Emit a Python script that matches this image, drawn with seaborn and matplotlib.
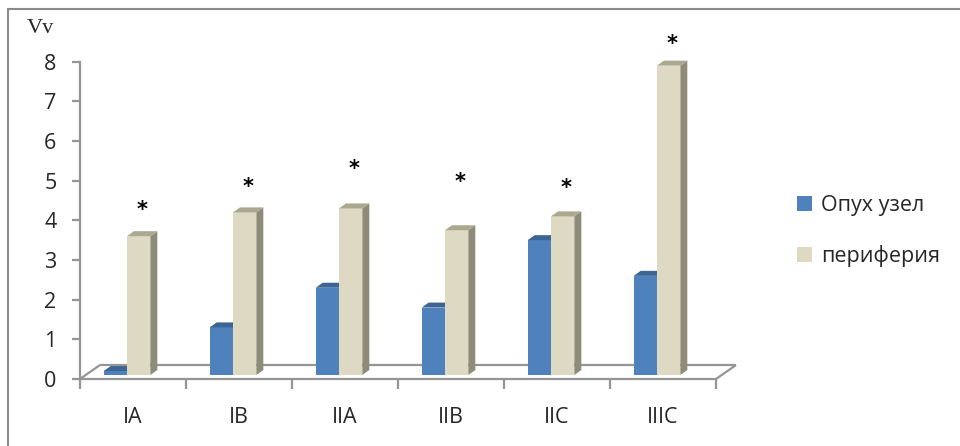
import matplotlib
matplotlib.use("Agg")
import matplotlib.pyplot as plt
import seaborn as sns
import pandas as pd
from matplotlib.patches import Polygon, Patch
from matplotlib.lines import Line2D

# ---- data ----
stages = ["IA", "IB", "IIA", "IIB", "IIC", "IIIC"]
node_vv = [0.1, 1.2, 2.2, 1.7, 3.4, 2.5]
periphery_vv = [3.5, 4.1, 4.2, 3.65, 4.0, 7.8]
series_names = ["Опух узел", "периферия"]
star_heights = [4.26, 4.83, 5.29, 4.96, 4.81, 8.44]
y_ticks = [0, 1, 2, 3, 4, 5, 6, 7, 8]

# ---- style ----
sns.set_style("white")
plt.rcParams["font.family"] = ["Open Sans", "DejaVu Sans"]

FRONT = ["#4F81BD", "#DDD9C3"]
TOP = ["#3C6594", "#ABA890"]
SIDE = ["#385D8A", "#8E8B78"]
AXIS_GREY = "#959595"

W, H = 960, 446
fig = plt.figure(figsize=(W / 100, H / 100), dpi=100)
ax = fig.add_axes([80 / W, (H - 379) / H, 636 / W, 317.3 / H])

df = pd.DataFrame({
    "stage": stages * 2,
    "Vv": node_vv + periphery_vv,
    "series": [series_names[0]] * len(stages) + [series_names[1]] * len(stages),
})

sns.barplot(data=df, x="stage", y="Vv", hue="series", hue_order=series_names,
            palette=FRONT, saturation=1, width=0.44, gap=0, linewidth=0,
            errorbar=None, legend=False, ax=ax)

ax.set_xlim(-0.5, len(stages) - 0.5)
ax.set_ylim(0, 8)

# pseudo-3D geometry (depth offsets in data units)
px_x = 1 / 106.0          # one pixel along x, in category units
px_y = 8 / 317.3          # one pixel along y, in value units
shift = 6 * px_x          # bars sit slightly left of the category centre
base = 4 * px_y           # bars stand a little behind the floor's front edge
dx, dy = 7 * px_x, 5 * px_y
floor_dx, floor_dy = 20 * px_x, 14 * px_y

for k, cont in enumerate(ax.containers):
    for bar in cont.patches:
        bar.set_x(bar.get_x() - shift)
        bar.set_y(base)
        bar.set_clip_on(False)
        bar.set_zorder(2 + k)
        x0, w = bar.get_x(), bar.get_width()
        top = base + bar.get_height()
        cap = Polygon([(x0, top), (x0 + w, top), (x0 + w + dx, top + dy), (x0 + dx, top + dy)],
                      closed=True, facecolor=TOP[k], edgecolor="none",
                      zorder=2.1 + k, clip_on=False)
        ax.add_patch(cap)
        side = Polygon([(x0 + w, base), (x0 + w, top), (x0 + w + dx, top + dy), (x0 + w + dx, base + dy)],
                       closed=True, facecolor=SIDE[k], edgecolor="none",
                       zorder=2.05 + k, clip_on=False)
        ax.add_patch(side)

# significance marks above the periphery bars
beige_bars = ax.containers[1].patches
for bar, h in zip(beige_bars, star_heights):
    cx = bar.get_x() + bar.get_width() / 2 + dx / 2
    ax.text(cx, h, "*", ha="center", va="center", fontsize=15,
            fontweight="bold", color="black", clip_on=False,
            family=["DejaVu Sans"])

# floor of the 3D box
x_lo, x_hi = -0.5, len(stages) - 0.5
floor_kw = dict(color=AXIS_GREY, lw=1.6, zorder=1, clip_on=False, solid_capstyle="butt")
ax.plot([x_lo + floor_dx, x_hi + floor_dx], [floor_dy, floor_dy], **floor_kw)
ax.plot([x_lo, x_lo + floor_dx], [0, floor_dy], **floor_kw)
ax.plot([x_hi, x_hi + floor_dx], [0, floor_dy], **floor_kw)

# axes
for s in ["top", "right"]:
    ax.spines[s].set_visible(False)
for s in ["left", "bottom"]:
    ax.spines[s].set_color(AXIS_GREY)
    ax.spines[s].set_linewidth(1.6)

ax.set_yticks(y_ticks)
ax.set_yticklabels([str(t) for t in y_ticks])
ax.tick_params(axis="y", which="major", direction="out", length=6, width=1.6,
               color=AXIS_GREY, pad=11, labelsize=15.5, left=True)
ax.set_xticks(range(len(stages)))
ax.set_xticklabels(stages)
ax.tick_params(axis="x", which="major", length=0, pad=20, labelsize=15.5)
ax.set_xticks([i - 0.5 for i in range(len(stages) + 1)], minor=True)
ax.tick_params(axis="x", which="minor", direction="out", length=7, width=1.6,
               color=AXIS_GREY, bottom=True)
ax.set_xlabel("")
ax.set_ylabel("")

fig.text(27 / W, (H - 33) / H, "Vv", family="Liberation Serif", fontsize=16,
         ha="left", va="baseline")

# legend
handles = [Patch(facecolor=c, edgecolor="none") for c in FRONT]
fig.legend(handles, series_names, loc="center left",
           bbox_to_anchor=(778 / W, (H - 231) / H), frameon=False,
           fontsize=15.5, handlelength=0.7, handleheight=0.7,
           handletextpad=0.4, labelspacing=1.35)

# chart border (top and left edges)
fig.add_artist(Line2D([8 / W, 1], [(H - 9) / H, (H - 9) / H], color="#8a8a8a", lw=1.5,
                      transform=fig.transFigure))
fig.add_artist(Line2D([8 / W, 8 / W], [0, (H - 9) / H], color="#8a8a8a", lw=1.5,
                      transform=fig.transFigure))

fig.savefig("out.png", dpi=100)
